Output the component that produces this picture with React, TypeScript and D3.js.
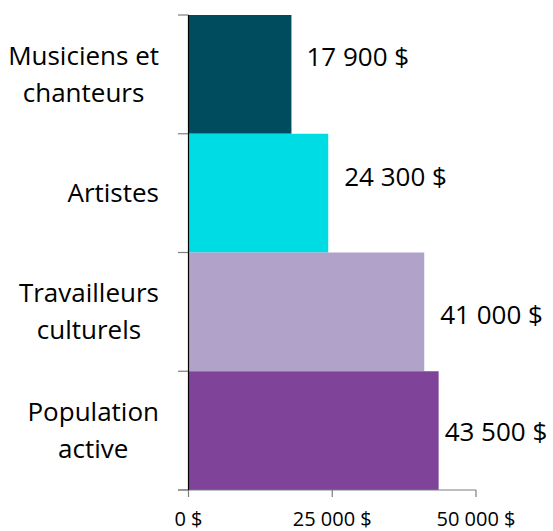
import React, { useEffect, useRef } from "react";
import * as d3 from "d3";

const categories = ["Musiciens et chanteurs", "Artistes", "Travailleurs culturels", "Population active"];
const categoryLines = [["Musiciens et", "chanteurs"], ["Artistes"], ["Travailleurs", "culturels"], ["Population", "active"]];
const values = [17900, 24300, 41000, 43500];
const valueLabels = ["17 900 $", "24 300 $", "41 000 $", "43 500 $"];
const colors = ["#004C5F", "#00DCE3", "#B1A2C9", "#7F4499"];
const tickValues = [0, 25000, 50000];
const tickLabels = ["0 $", "25 000 $", "50 000 $"];

// layout constants (label placement nudges)
const labelDx = [15, 16, 16, 6];
const labelDy = [-8, -7.5, 12, 10];

const W = 553, H = 531;
const FONT = "'Open Sans', 'Noto Sans', sans-serif";

export default function App() {
  const ref = useRef<SVGSVGElement | null>(null);
  useEffect(() => {
    const svg = d3.select(ref.current);
    svg.selectAll("*").remove();
    const x = d3.scaleLinear().domain([0, 50000]).range([188.5, 476]);
    const y = d3.scaleBand<string>().domain(categories).range([15, 490]).padding(0);

    // bars
    svg.append("g").selectAll("rect").data(values).join("rect")
      .attr("x", x(0) + 0.5)
      .attr("y", (_, i) => y(categories[i])!)
      .attr("width", (d) => x(d) - x(0) - 0.5)
      .attr("height", y.bandwidth())
      .attr("fill", (_, i) => colors[i]);

    // x axis line and ticks
    const g = svg.append("g");
    g.append("line").attr("x1", 178).attr("x2", x(50000)).attr("y1", 490).attr("y2", 490)
      .attr("stroke", "#7f7f7f").attr("stroke-width", 1.2);
    g.selectAll(".xt").data(tickValues).join("line")
      .attr("x1", (d) => x(d)).attr("x2", (d) => x(d)).attr("y1", 490).attr("y2", 497)
      .attr("stroke", "#7f7f7f").attr("stroke-width", 1.2);
    g.selectAll(".xl").data(tickValues).join("text")
      .attr("x", (d) => x(d)).attr("y", 526)
      .attr("text-anchor", "middle")
      .attr("font-family", FONT).attr("font-size", 20).attr("fill", "#000")
      .text((_, i) => tickLabels[i]);

    // y ticks at band boundaries
    const bounds = categories.map((c) => y(c)!).concat([y(categories[categories.length - 1])! + y.bandwidth()]);
    g.selectAll(".yt").data(bounds).join("line")
      .attr("x1", 178).attr("x2", x(0)).attr("y1", (d) => d).attr("y2", (d) => d)
      .attr("stroke", "#7f7f7f").attr("stroke-width", 1.2);
    g.append("line").attr("x1", x(0)).attr("x2", x(0)).attr("y1", 15).attr("y2", 490)
      .attr("stroke", "#000").attr("stroke-width", 1.2);

    // category labels
    const lineH = 37;
    categoryLines.forEach((lines, i) => {
      const cy = y(categories[i])! + y.bandwidth() / 2;
      const t = svg.append("text").attr("font-family", FONT).attr("font-size", 26).attr("fill", "#000")
        .attr("text-anchor", "middle");
      const n = lines.length;
      lines.forEach((ln, j) => {
        t.append("tspan").attr("x", 0)
          .attr("y", cy + (j - (n - 1) / 2) * lineH + 9)
          .text(ln);
      });
      let maxW = 0;
      t.selectAll<SVGTSpanElement, unknown>("tspan").each(function () {
        maxW = Math.max(maxW, this.getComputedTextLength());
      });
      t.selectAll("tspan").attr("x", 159 - maxW / 2);
    });

    // value labels
    svg.append("g").selectAll("text").data(values).join("text")
      .attr("x", (d, i) => x(d) + labelDx[i])
      .attr("y", (_, i) => y(categories[i])! + y.bandwidth() / 2 + labelDy[i])
      .attr("font-family", FONT).attr("font-size", 26).attr("fill", "#000")
      .text((_, i) => valueLabels[i]);
  }, []);
  return (
    <svg ref={ref} width={W} height={H} style={{ position: "absolute", left: 0, top: 0, background: "#fff" }} />
  );
}
